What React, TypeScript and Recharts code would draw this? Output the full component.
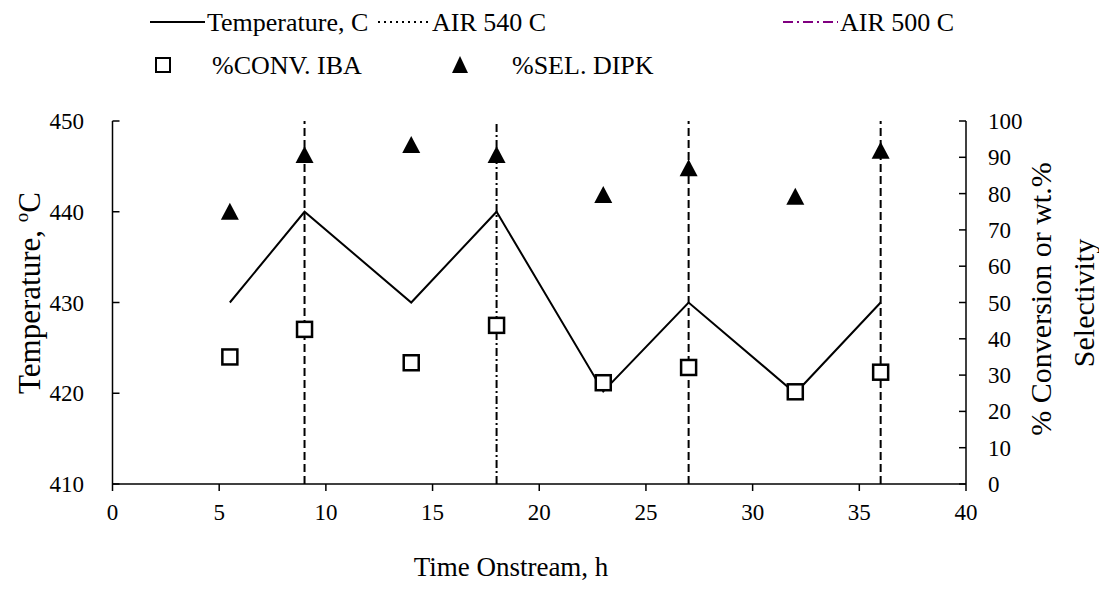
import { ComposedChart, Line, Scatter, XAxis, YAxis, ReferenceLine } from 'recharts';

const hours = [5.5, 9, 14, 18, 23, 27, 32, 36];
const temperature = [430, 440, 430, 440, 420.2, 430, 420, 430];
const convIBA = [35, 42.6, 33.4, 43.7, 27.9, 32.1, 25.4, 30.8];
const selDIPK = [75, 90.6, 93.4, 90.6, 79.6, 87, 79.1, 91.8];

// regeneration times
const air540 = [9, 27, 36];
const air500 = [18];

const timeTicks = [0, 5, 10, 15, 20, 25, 30, 35, 40];
const tempTicks = [410, 420, 430, 440, 450];
const pctTicks = [0, 10, 20, 30, 40, 50, 60, 70, 80, 90, 100];

const FONT = '"Liberation Serif", "Times New Roman", serif';
const TICK_SIZE = 23;

const rows = hours.map((t, i) => ({
  t,
  temp: temperature[i],
  conv: convIBA[i],
  sel: selDIPK[i],
}));

const txt = { fontFamily: FONT, fill: '#000' };

const BottomTick = (p: any) => (
  <text x={p.x} y={p.y} dy="0.75em" textAnchor="middle" style={{ ...txt, fontSize: TICK_SIZE }}>
    {p.payload.value}
  </text>
);

const LeftTick = (p: any) => (
  <text x={p.x} y={p.y} dy="0.35em" textAnchor="end" style={{ ...txt, fontSize: TICK_SIZE }}>
    {p.payload.value}
  </text>
);

const RightTick = (p: any) => (
  <text x={p.x} y={p.y} dy="0.35em" textAnchor="start" style={{ ...txt, fontSize: TICK_SIZE }}>
    {p.payload.value}
  </text>
);

const Square = (props: any) => {
  const { cx, cy } = props;
  return <rect x={cx - 7.5} y={cy - 7.5} width={15} height={15} fill="#fff" stroke="#000" strokeWidth={2.5} />;
};

const Triangle = (props: any) => {
  const { cx, cy } = props;
  return <path d={`M${cx},${cy - 9} L${cx + 9},${cy + 8} L${cx - 9},${cy + 8} Z`} fill="#000" />;
};

const LegendBox = () => (
  <svg
    width={1099}
    height={90}
    style={{ position: 'absolute', left: 0, top: 0, fontFamily: FONT, fontSize: 26 }}
  >
    <line x1={150} y1={22} x2={205} y2={22} stroke="#000" strokeWidth={2} />
    <text x={207} y={31}>Temperature, C</text>
    <line x1={378} y1={22} x2={430} y2={22} stroke="#000" strokeWidth={2} strokeDasharray="2 4" />
    <text x={432} y={31}>AIR 540 C</text>
    <line x1={783} y1={22} x2={838} y2={22} stroke="#800080" strokeWidth={2} strokeDasharray="10 4 2 4" />
    <text x={840} y={31}>AIR 500 C</text>
    <rect x={156} y={58} width={14} height={14} fill="#fff" stroke="#000" strokeWidth={2} />
    <text x={212} y={74}>%CONV. IBA</text>
    <path d="M460,56 L468,73 L452,73 Z" fill="#000" />
    <text x={512} y={74}>%SEL. DIPK</text>
  </svg>
);

export default function App() {
  return (
    <div style={{ position: 'absolute', left: 0, top: 0, width: 1099, height: 595, background: '#fff' }}>
      <ComposedChart
        width={1099}
        height={595}
        data={rows}
        margin={{ top: 121, right: 73, bottom: 71, left: 52.5 }}
      >
        <XAxis
          type="number"
          dataKey="t"
          domain={[0, 40]}
          ticks={timeTicks}
          interval={0}
          height={40}
          tickSize={7}
          tickMargin={12}
          stroke="#000"
          strokeWidth={1.5}
          tick={<BottomTick />}
          label={() => (
            <text x={511} y={576} textAnchor="middle" style={{ ...txt, fontSize: 27 }}>
              Time Onstream, h
            </text>
          )}
        />
        <YAxis
          yAxisId="temp"
          orientation="left"
          domain={[410, 450]}
          ticks={tempTicks}
          interval={0}
          width={60}
          tickSize={-7}
          tickMargin={35.5}
          stroke="#000"
          strokeWidth={1.5}
          tick={<LeftTick />}
          label={() => (
            <text
              transform="translate(29,293) rotate(-90)"
              textAnchor="middle"
              dy="0.35em"
              style={{ ...txt, fontSize: 31 }}
            >
              Temperature,{' '}
              <tspan style={{ fontSize: 19 }} dy={-12}>o</tspan>
              <tspan dy={12}>C</tspan>
            </text>
          )}
        />
        <YAxis
          yAxisId="pct"
          orientation="right"
          domain={[0, 100]}
          ticks={pctTicks}
          interval={0}
          width={60}
          tickSize={-7}
          tickMargin={29}
          stroke="#000"
          strokeWidth={1.5}
          tick={<RightTick />}
          label={() => (
            <g>
              <text transform="translate(1040,299) rotate(-90)" textAnchor="middle" dy="0.35em" style={{ ...txt, fontSize: 30 }}>
                % Conversion or wt.%
              </text>
              <text transform="translate(1083,303) rotate(-90)" textAnchor="middle" dy="0.35em" style={{ ...txt, fontSize: 30 }}>
                Selectivity
              </text>
            </g>
          )}
        />
        {air540.map((x) => (
          <ReferenceLine key={`a540-${x}`} yAxisId="temp" x={x} stroke="#000" strokeWidth={2} strokeDasharray="8 4" />
        ))}
        {air500.map((x) => (
          <ReferenceLine key={`a500-${x}`} yAxisId="temp" x={x} stroke="#000" strokeWidth={2} strokeDasharray="8 3 2 3" />
        ))}
        <Line yAxisId="temp" dataKey="temp" stroke="#000" strokeWidth={2} dot={false} isAnimationActive={false} />
        <Scatter yAxisId="pct" dataKey="conv" shape={<Square />} isAnimationActive={false} />
        <Scatter yAxisId="pct" dataKey="sel" shape={<Triangle />} isAnimationActive={false} />
      </ComposedChart>
      <LegendBox />
    </div>
  );
}
